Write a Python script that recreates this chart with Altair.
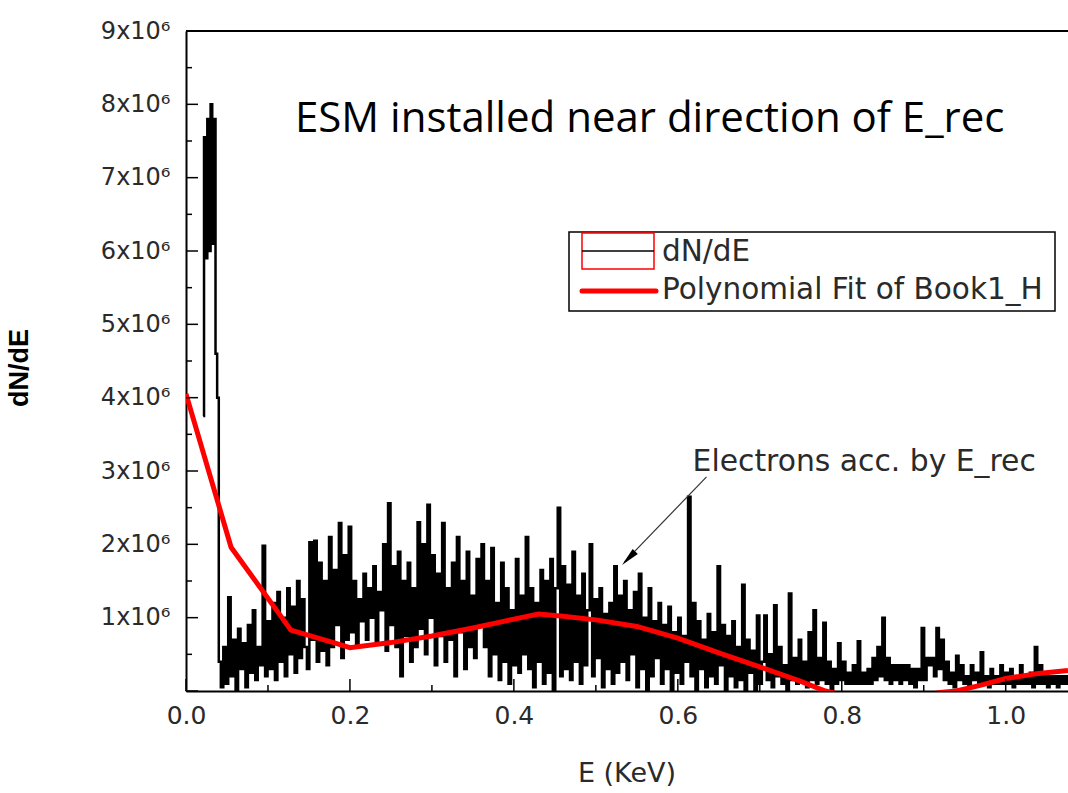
import altair as alt
import pandas as pd
import numpy as np

# ---------------- data (dN/dE in units of 1e4, E in keV) ----------------
spike_e = [0.021, 0.023, 0.025, 0.027, 0.029, 0.031, 0.033, 0.035, 0.037, 0.039]
spike_v = [375, 755, 590, 780, 600, 800, 610, 780, 460, 400]

bin_step = 0.003
seg_starts = [0.041, 0.101, 0.161, 0.221, 0.281, 0.341, 0.401, 0.461, 0.521,
              0.581, 0.641, 0.701, 0.761, 0.821, 0.881, 0.941, 1.001]
seg_a = [40, 5, 60, 10, 128, 20, 70, 0, 85, 30, 65, 5, 90, 25, 110, 15, 60, 35, 198, 20]
seg_b = [95, 30, 120, 15, 135, 40, 100, 20, 140, 50, 115, 25, 150, 45, 125, 60, 30, 203, 70, 205]
seg_c = [40, 175, 55, 150, 35, 210, 60, 165, 90, 229, 45, 185, 70, 224, 80, 150, 60, 125, 95, 160]
seg_d = [70, 140, 100, 170, 65, 135, 110, 200, 55, 256, 90, 170, 60, 190, 20, 150, 75, 175, 40, 140]
seg_e = [60, 230, 85, 200, 50, 254, 100, 185, 35, 160, 75, 229, 40, 140, 70, 175, 20, 210, 80, 150]
seg_f = [30, 190, 60, 130, 45, 180, 90, 200, 60, 150, 20, 195, 50, 120, 15, 175, 40, 140, 10, 110]
seg_g = [35, 180, 25, 130, 50, 210, 30, 140, 5, 120, 40, 165, 10, 150, 25, 180, 0, 140, 250, 20]
seg_h = [170, 30, 145, 15, 190, 40, 130, 10, 160, 35, 110, 200, 20, 125, 45, 140, 5, 105, 30, 120]
seg_i = [10, 170, 25, 130, 40, 150, 15, 110, 50, 135, 5, 160, 30, 100, 0, 140, 20, 95, 45, 120]
seg_j = [10, 90, 30, 115, 0, 80, 25, 100, 10, 75, 40, 265, 20, 120, 0, 95, 30, 70, 5, 105]
seg_k = [20, 80, 10, 170, 35, 90, 0, 75, 20, 95, 5, 60, 15, 145, 0, 70, 25, 55, 0, 103]
seg_l = [10, 40, 103, 15, 50, 5, 117, 20, 60, 10, 35, 0, 133, 15, 45, 10, 70, 15, 40, 5]
seg_m = [80, 15, 110, 10, 45, 15, 93, 10, 40, 0, 30, 10, 65, 15, 40, 10, 25, 10, 35, 10]
seg_n = [68, 10, 25, 10, 30, 10, 45, 15, 60, 20, 100, 15, 45, 10, 35, 15, 35, 10, 35, 15]
seg_o = [35, 10, 30, 5, 30, 15, 86, 15, 45, 35, 45, 20, 86, 30, 70, 15, 40, 10, 25, 5]
seg_p = [48, 15, 35, 10, 20, 5, 35, 15, 25, 10, 53, 10, 20, 5, 30, 10, 20, 10, 35, 10]
seg_q = [25, 10, 30, 5, 20, 10, 35, 10, 20, 10, 25, 5, 60, 10, 35, 10, 20, 5, 20, 10, 20, 5, 20, 10, 20, 10]
segments = [seg_a, seg_b, seg_c, seg_d, seg_e, seg_f, seg_g, seg_h, seg_i,
            seg_j, seg_k, seg_l, seg_m, seg_n, seg_o, seg_p, seg_q]

# polynomial fit (dN/dE in units of 1e6)
fit_e = [0.0, 0.055, 0.128, 0.183, 0.2, 0.25, 0.3, 0.35, 0.4, 0.43, 0.46, 0.5, 0.55,
         0.6, 0.65, 0.7, 0.75, 0.78, 0.82, 0.87, 0.92, 0.94, 0.97, 1.0, 1.04, 1.076]
fit_v = [4.05, 1.96, 0.83, 0.65, 0.59, 0.66, 0.75, 0.86, 0.98, 1.05, 1.02, 0.97, 0.88,
         0.72, 0.52, 0.33, 0.13, 0.0, -0.1, -0.12, -0.02, 0.0, 0.08, 0.17, 0.24, 0.28]

y_major = [0, 1e6, 2e6, 3e6, 4e6, 5e6, 6e6, 7e6, 8e6, 9e6]
y_minor = [0.5e6, 1.5e6, 2.5e6, 3.5e6, 4.5e6, 5.5e6, 6.5e6, 7.5e6, 8.5e6]
x_major = [0.0, 0.2, 0.4, 0.6, 0.8, 1.0]
x_minor = [0.1, 0.3, 0.5, 0.7, 0.9]

title_text = "ESM installed near direction of E_rec"
annot_text = "Electrons acc. by E_rec"
arrow_e = [0.635, 0.535]
arrow_v = [2.92e6, 1.76e6]
arrow_tip_e = [0.540]
arrow_tip_v = [1.81e6]

# ---------------- build tables ----------------
E_list = list(spike_e)
V_list = [v * 1e4 for v in spike_v]
for s, seg in zip(seg_starts, segments):
    for i, v in enumerate(seg):
        E_list.append(round(s + bin_step * i, 4))
        V_list.append(v * 1e4)
spec = pd.DataFrame({"E": E_list, "V": V_list})
fit = pd.DataFrame({"E": fit_e, "V": [v * 1e6 for v in fit_v]})

W, H = 882, 660
XMAX = 1.076
xs = alt.Scale(domain=[0, XMAX], nice=False, zero=False)
ys = alt.Scale(domain=[0, 9e6], nice=False)

FONT = "DejaVu Sans"
TXT = "#2a2a2a"

x_axis = alt.Axis(
    values=x_major, format=".1f", title="", ticks=False, tickSize=0,
    domainColor="black", domainWidth=2, labelFont=FONT, labelFontSize=25,
    labelColor=TXT, labelPadding=12, labelFlush=False, labelOverlap=False,
    grid=False)
y_axis = alt.Axis(
    values=y_major[1:], labelExpr="format(datum.value/1e6,'d') + 'x10⁶'",
    title="", ticks=False, tickSize=0, domainColor="black", domainWidth=2,
    labelFont=FONT, labelFontSize=24, labelColor=TXT, labelPadding=16,
    labelFlush=False, labelOverlap=False, grid=False)


def X():
    return alt.X("E:Q", scale=xs, axis=x_axis)


def Y():
    return alt.Y("V:Q", scale=ys, axis=y_axis)


spec_line = alt.Chart(spec).mark_line(
    color="black", strokeWidth=2.5, interpolate="step", clip=True
).encode(x=X(), y=Y())

fit_line = alt.Chart(fit).mark_line(color="#ff0000", strokeWidth=5, clip=True).encode(
    x=X(), y=Y())

ymaj = alt.Chart(pd.DataFrame({"V": y_major})).mark_rule(color="black", strokeWidth=1.5).encode(
    y=Y(), x=alt.value(0), x2=alt.value(12))
ymin = alt.Chart(pd.DataFrame({"V": y_minor})).mark_rule(color="black", strokeWidth=1.5).encode(
    y=Y(), x=alt.value(0), x2=alt.value(6))
xmaj = alt.Chart(pd.DataFrame({"E": x_major})).mark_rule(color="black", strokeWidth=1.5).encode(
    x=X(), y=alt.value(H), y2=alt.value(H - 12))
xmin = alt.Chart(pd.DataFrame({"E": x_minor})).mark_rule(color="black", strokeWidth=1.5).encode(
    x=X(), y=alt.value(H), y2=alt.value(H - 6))

one = pd.DataFrame({"k": [0]})
top_border = alt.Chart(one).mark_rule(color="black", strokeWidth=2).encode(
    x=alt.value(0), x2=alt.value(W), y=alt.value(0))

title = alt.Chart(pd.DataFrame({"t": [title_text]})).mark_text(
    font="Open Sans", fontSize=42, color="black", align="left", baseline="middle"
).encode(text="t:N", x=alt.value(109), y=alt.value(88))

xtitle = alt.Chart(pd.DataFrame({"t": ["E (KeV)"]})).mark_text(
    font=FONT, fontSize=27, color=TXT, align="center", baseline="middle"
).encode(text="t:N", x=alt.value(W / 2), y=alt.value(743))

ytitle = alt.Chart(pd.DataFrame({"t": ["dN/dE"]})).mark_text(
    font="Liberation Sans", fontSize=27, fontWeight="bold", color="black",
    align="center", baseline="middle", angle=270
).encode(text="t:N", x=alt.value(-166), y=alt.value(337))

# legend box
leg_box = alt.Chart(one).mark_rect(fill="white", stroke="black", strokeWidth=1.5).encode(
    x=alt.value(383), x2=alt.value(869), y=alt.value(201), y2=alt.value(280))
leg_sym1 = alt.Chart(one).mark_rect(fill="white", stroke="#ff0000", strokeWidth=1.5).encode(
    x=alt.value(396), x2=alt.value(468), y=alt.value(202), y2=alt.value(238))
leg_sym1_line = alt.Chart(one).mark_rule(color="black", strokeWidth=1.3).encode(
    x=alt.value(396), x2=alt.value(468), y=alt.value(220))
leg_sym2 = alt.Chart(one).mark_rule(color="#ff0000", strokeWidth=5, strokeCap="round").encode(
    x=alt.value(396), x2=alt.value(470), y=alt.value(260))
leg_text = alt.Chart(pd.DataFrame({"t": ["dN/dE", "Polynomial Fit of Book1_H"],
                                   "yy": [221, 259]})).mark_text(
    font=FONT, fontSize=29.5, color=TXT, align="left", baseline="middle"
).encode(text="t:N", x=alt.value(476), y=alt.Y("yy:Q", scale=None, axis=None))

# annotation
annot = alt.Chart(pd.DataFrame({"t": [annot_text], "E": [0.618], "V": [3.12e6]})).mark_text(
    font=FONT, fontSize=29.8, color=TXT, align="left", baseline="middle"
).encode(text="t:N", x=X(), y=Y())
arrow_line = alt.Chart(pd.DataFrame({"E": arrow_e, "V": arrow_v})).mark_line(
    color="#333333", strokeWidth=1.2
).encode(x=X(), y=Y())
arrow_head = alt.Chart(pd.DataFrame({"E": arrow_tip_e, "V": arrow_tip_v})).mark_point(
    shape="M0,-1L0.38,1L-0.38,1Z", filled=True, color="black", size=360, angle=224, opacity=1
).encode(x=X(), y=Y())

chart = alt.layer(
    spec_line, fit_line, ymaj, ymin, xmaj, xmin, top_border, title, xtitle, ytitle,
    leg_box, leg_sym1, leg_sym1_line, leg_sym2, leg_text, annot, arrow_line, arrow_head
).properties(
    width=W, height=H,
    autosize=alt.AutoSizeParams(type="none"),
    padding={"left": 186, "top": 31, "right": 0, "bottom": 102},
).configure_view(stroke=None).configure(background="white")

chart.save("out.html", embed_options={"renderer": "svg", "actions": False})
